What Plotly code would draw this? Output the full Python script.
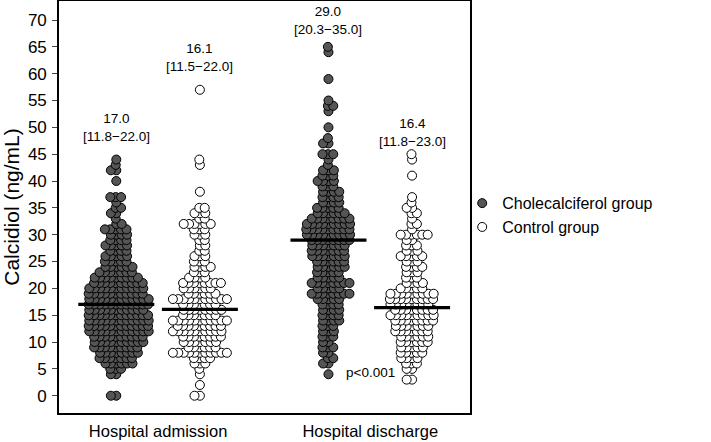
import math
import plotly.graph_objects as go

# ---------------- data (value -> count) ----------------
adm_chole_vals = [0, 4, 5, 6, 7, 8, 9, 10, 11, 12, 13, 14, 15, 16, 17, 18, 19, 20, 21, 22, 23, 24, 25, 26, 27, 28, 29, 30, 31, 32, 33, 34, 35, 36, 37, 40, 42, 43, 44]
adm_chole_cnts = [2, 2, 3, 6, 7, 8, 9, 10, 10, 12, 12, 12, 12, 11, 12, 12, 11, 11, 10, 9, 7, 6, 5, 5, 4, 5, 4, 4, 5, 2, 1, 2, 2, 1, 3, 1, 2, 1, 1]

adm_ctrl_vals = [0, 2, 4, 5, 6, 7, 8, 9, 10, 11, 12, 13, 14, 15, 16, 17, 18, 19, 20, 21, 22, 23, 24, 25, 26, 27, 28, 29, 30, 31, 32, 33, 34, 35, 38, 43, 44, 57]
adm_ctrl_cnts = [2, 1, 1, 1, 3, 4, 11, 6, 7, 8, 10, 9, 11, 7, 8, 7, 11, 6, 6, 8, 4, 3, 4, 3, 3, 2, 2, 2, 3, 3, 6, 2, 3, 2, 1, 1, 1, 1]

dis_chole_vals = [4, 6, 7, 8, 9, 10, 11, 12, 13, 14, 15, 16, 17, 18, 19, 20, 21, 22, 23, 24, 25, 26, 27, 28, 29, 30, 31, 32, 33, 34, 35, 36, 37, 38, 39, 40, 41, 42, 43, 44, 45, 47, 48, 50, 53, 54, 55, 59, 64, 65]
dis_chole_cnts = [1, 2, 2, 2, 3, 2, 3, 3, 3, 4, 4, 4, 4, 5, 8, 5, 8, 5, 5, 6, 6, 7, 7, 7, 8, 9, 9, 9, 8, 6, 5, 4, 4, 4, 3, 4, 3, 3, 1, 1, 3, 2, 1, 1, 1, 2, 1, 1, 1, 1]

dis_ctrl_vals = [3, 5, 6, 7, 8, 9, 10, 11, 12, 13, 14, 15, 16, 17, 18, 19, 20, 21, 22, 23, 24, 25, 26, 27, 28, 29, 30, 31, 32, 33, 34, 35, 36, 37, 41, 44, 45]
dis_ctrl_cnts = [2, 2, 3, 4, 5, 5, 6, 6, 7, 7, 8, 9, 8, 8, 9, 9, 5, 4, 3, 3, 4, 3, 5, 3, 3, 2, 6, 1, 2, 1, 2, 2, 1, 1, 1, 1, 1]

categories = ["Hospital admission", "Hospital discharge"]
series_names = ["Cholecalciferol group", "Control group"]
medians = [17.0, 16.1, 29.0, 16.4]
q1 = [11.8, 11.5, 20.3, 11.8]
q3 = [22.0, 22.0, 35.0, 23.0]
p_text = "p<0.001"

# ---------------- layout constants ----------------
W, H = 711, 442
ML, MR, MT, MB = 59, 241, 1, 29
YR = [-3.22, 73.54]
XR = [0.533, 2.47]
plot_w = W - ML - MR
plot_h = H - MT - MB
px_per_y = plot_h / (YR[1] - YR[0])
px_per_x = plot_w / (XR[1] - XR[0])
OFF = 0.197
D = 5.4  # min centre distance in px for the swarm


def expand(vals, cnts):
    out = []
    for v, c in zip(vals, cnts):
        out += [v] * c
    return out


def swarm(values, centre):
    order = sorted(range(len(values)), key=lambda i: values[i])
    placed = []
    xs = [0.0] * len(values)
    for i in order:
        y = values[i] * px_per_y
        near = [(px, py) for px, py in placed if abs(py - y) < D]
        cands = [0.0]
        for px, py in near:
            dx = math.sqrt(max(D * D - (py - y) ** 2, 0))
            cands += [px + dx, px - dx]
        cands.sort(key=lambda c: (abs(c), c))
        chosen = cands[-1]
        for c in cands:
            if all((c - px) ** 2 + (y - py) ** 2 >= D * D - 1e-6 for px, py in near):
                chosen = c
                break
        placed.append((chosen, y))
        xs[i] = centre + chosen / px_per_x
    return xs


groups = [
    (expand(adm_chole_vals, adm_chole_cnts), 1 - OFF, 0),
    (expand(adm_ctrl_vals, adm_ctrl_cnts), 1 + OFF, 1),
    (expand(dis_chole_vals, dis_chole_cnts), 2 - OFF, 0),
    (expand(dis_ctrl_vals, dis_ctrl_cnts), 2 + OFF, 1),
]
fills = ["#555555", "#ffffff"]

fig = go.Figure()
for gi, (vals, centre, s) in enumerate(groups):
    xs = swarm(vals, centre)
    fig.add_trace(go.Scatter(
        x=xs, y=vals, mode="markers",
        marker=dict(size=9, color=fills[s], line=dict(color="black", width=1)),
        name=series_names[s], showlegend=(gi < 2), legendgroup=series_names[s],
        hoverinfo="skip"))

# median lines
half = 38 / px_per_x
for gi, (vals, centre, s) in enumerate(groups):
    fig.add_trace(go.Scatter(
        x=[centre - half, centre + half], y=[medians[gi], medians[gi]],
        mode="lines", line=dict(color="black", width=3.2),
        showlegend=False, hoverinfo="skip"))

label_y = [50.0, 63.0, 69.9, 49.1]
for gi, (vals, centre, s) in enumerate(groups):
    fig.add_annotation(
        x=centre, y=label_y[gi], xref="x", yref="y",
        text=f"{medians[gi]:.1f}<br>[{q1[gi]:.1f}\u2212{q3[gi]:.1f}]",
        showarrow=False, font=dict(size=13.5, color="black"),
        xanchor="center", yanchor="middle", align="center")

fig.add_annotation(x=2, y=4.3, xref="x", yref="y", text=p_text, showarrow=False,
                   font=dict(size=13.5, color="black"), xanchor="center", yanchor="middle")

font_family = "Liberation Sans, Arial, sans-serif"
fig.update_layout(
    width=W, height=H,
    margin=dict(l=ML, r=MR, t=MT, b=MB, pad=0, autoexpand=False),
    paper_bgcolor="white", plot_bgcolor="white",
    font=dict(family=font_family, color="black"),
    showlegend=True,
    legend=dict(x=0.981, y=0.48, xanchor="left", yanchor="middle",
                font=dict(size=16), bgcolor="rgba(0,0,0,0)",
                itemwidth=30, tracegroupgap=0),
    xaxis=dict(range=XR, tickvals=[1, 2], ticktext=categories, showgrid=False,
               zeroline=False, showline=True, linecolor="black", linewidth=1.6,
               mirror=True, ticks="", tickfont=dict(size=16.5), ticklabelstandoff=2,
               automargin=False),
    yaxis=dict(range=YR, tickvals=list(range(0, 71, 5)), showgrid=False,
               zeroline=False, showline=True, linecolor="black", linewidth=1.6,
               mirror=True, ticks="outside", ticklen=5, tickwidth=1.3,
               tickfont=dict(size=17), ticklabelstandoff=2, automargin=False,
               title=dict(text="Calcidiol (ng/mL)", font=dict(size=21), standoff=4)),
)

fig.write_html("out.html", config={"displayModeBar": False},
               post_script="document.body.style.margin='0px';document.body.style.padding='0px';")
